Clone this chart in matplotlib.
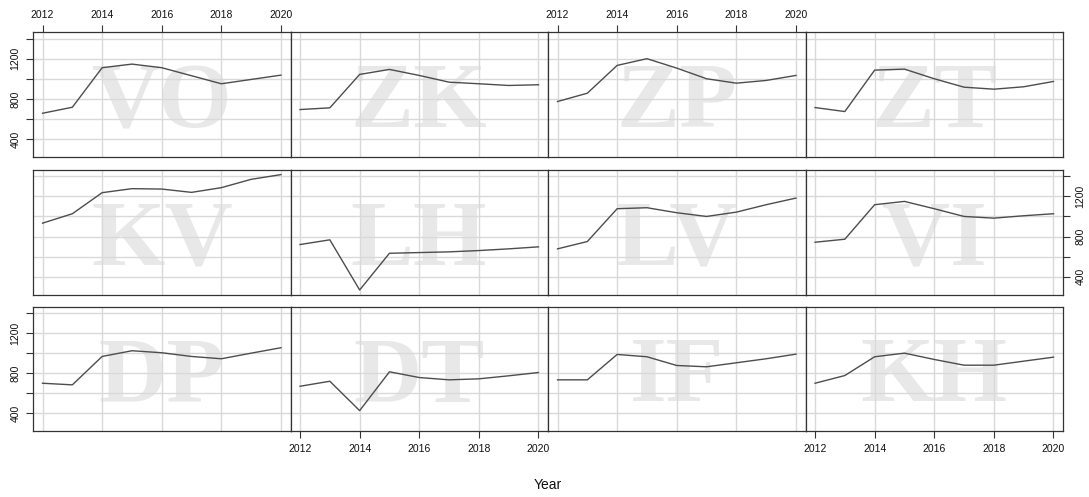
import matplotlib
matplotlib.use("Agg")
import matplotlib.pyplot as plt

years = [2012, 2013, 2014, 2015, 2016, 2017, 2018, 2019, 2020]

# Annual values per site
vo = [656, 716, 1110, 1146, 1110, 1030, 950, 993, 1036]
zk = [693, 710, 1043, 1093, 1033, 966, 950, 933, 940]
zp = [773, 856, 1133, 1200, 1106, 1000, 956, 983, 1033]
zt = [713, 673, 1086, 1096, 1000, 916, 896, 920, 973]
kv = [933, 1027, 1237, 1277, 1273, 1240, 1287, 1370, 1417]
lh = [720, 767, 267, 633, 640, 647, 660, 677, 697]
lv = [677, 750, 1077, 1087, 1037, 1000, 1043, 1117, 1183]
vi = [743, 773, 1117, 1150, 1077, 1000, 983, 1007, 1027]
dp = [700, 684, 967, 1024, 1004, 967, 944, 1000, 1054]
dt = [670, 720, 427, 814, 757, 734, 744, 774, 807]
iff = [734, 734, 987, 964, 877, 864, 904, 944, 990]
kh = [700, 777, 964, 1000, 937, 880, 880, 920, 960]

site_codes = [["VO", "ZK", "ZP", "ZT"],
              ["KV", "LH", "LV", "VI"],
              ["DP", "DT", "IF", "KH"]]
site_values = {"VO": vo, "ZK": zk, "ZP": zp, "ZT": zt,
               "KV": kv, "LH": lh, "LV": lv, "VI": vi,
               "DP": dp, "DT": dt, "IF": iff, "KH": kh}

x_ticks = [2012, 2014, 2016, 2018, 2020]
y_ticks = [400, 600, 800, 1000, 1200, 1400]
y_tick_labels = ["400", "", "800", "", "1200", ""]
x_label = "Year"

W, H = 1089, 497
fig = plt.figure(figsize=(W / 100, H / 100), dpi=100)
plt.rcParams["font.family"] = ["Liberation Sans", "DejaVu Sans"]

# shared limits with 4% padding
all_vals = [v for vals in site_values.values() for v in vals]
lo, hi = min(all_vals), max(all_vals)
ypad = 0.04 * (hi - lo)
xpad = 0.04 * (years[-1] - years[0])

col_left = [33, 290.5, 548, 805.5]
col_w = 257.5
row_top = [32.3, 170, 306.7]
row_h = 124.6

tick_kw = dict(length=5, width=0.8, color="#333333", labelsize=7.5,
               labelcolor="#111111", pad=4, direction="out")

for r in range(3):
    for c in range(4):
        code = site_codes[r][c]
        ax = fig.add_axes([col_left[c] / W, 1 - (row_top[r] + row_h) / H,
                           col_w / W, row_h / H])
        ax.set_xlim(years[0] - xpad, years[-1] + xpad)
        ax.set_ylim(lo - ypad, hi + ypad)
        ax.set_xticks(x_ticks)
        ax.set_yticks(y_ticks)
        ax.grid(True, color="#d9d9d9", linewidth=1.0, zorder=1)
        ax.set_axisbelow(True)
        ax.text(0.5, 0.5, code, transform=ax.transAxes, ha="center",
                va="center_baseline", fontsize=68, fontweight="bold",
                family="Liberation Serif", color="#e8e8e8", zorder=0.5)
        ax.plot(years, site_values[code], color="#4d4d4d", linewidth=1.0,
                zorder=3)
        for s in ax.spines.values():
            s.set_color("#333333")
            s.set_linewidth(0.9)

        show_top = (r == 0 and c in (0, 2))
        show_bottom = (r == 2 and c in (1, 3))
        show_left = (c == 0 and r in (0, 2))
        show_right = (c == 3 and r == 1)
        ax.tick_params(axis="x", top=show_top, labeltop=show_top,
                       bottom=show_bottom, labelbottom=show_bottom, **tick_kw)
        ax.tick_params(axis="y", left=show_left, labelleft=show_left,
                       right=show_right, labelright=show_right, **tick_kw)
        ax.set_yticklabels(y_tick_labels, rotation=90, va="center")

fig.text(548 / W, 1 - 485 / H, x_label, ha="center", va="center",
         fontsize=10, color="#111111")

fig.savefig("out.png", dpi=100)
